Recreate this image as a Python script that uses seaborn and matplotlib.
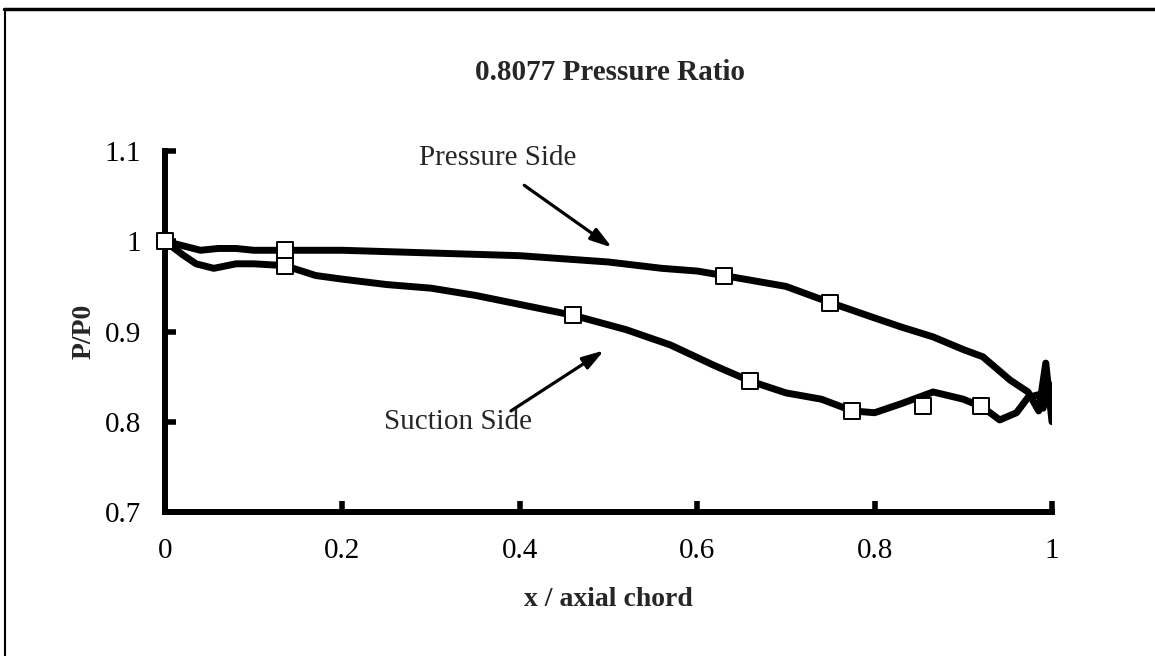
import matplotlib
matplotlib.use("Agg")
import matplotlib.pyplot as plt
import seaborn as sns
import pandas as pd
from matplotlib.lines import Line2D

# ---- data ----
ps_x = [0, 0.02, 0.04, 0.06, 0.08, 0.1, 0.135, 0.2, 0.3, 0.4, 0.5, 0.56, 0.6, 0.63,
        0.7, 0.75, 0.8, 0.83, 0.866, 0.9, 0.922, 0.953, 0.973, 0.985, 0.993, 1.0]
ps_y = [1.0, 0.995, 0.99, 0.992, 0.992, 0.99, 0.99, 0.99, 0.987, 0.984, 0.977, 0.97, 0.967, 0.962,
        0.95, 0.932, 0.915, 0.905, 0.894, 0.88, 0.872, 0.846, 0.833, 0.812, 0.865, 0.80]

ss_x = [0, 0.02, 0.035, 0.055, 0.08, 0.1, 0.135, 0.17, 0.2, 0.25, 0.3, 0.35, 0.4, 0.46,
        0.52, 0.57, 0.62, 0.66, 0.7, 0.74, 0.775, 0.8, 0.83, 0.866, 0.9, 0.922, 0.941,
        0.96, 0.973, 0.985, 0.99, 0.995, 1.0]
ss_y = [1.0, 0.985, 0.975, 0.97, 0.975, 0.975, 0.973, 0.962, 0.958, 0.952, 0.948, 0.94, 0.93, 0.918,
        0.902, 0.885, 0.862, 0.845, 0.832, 0.825, 0.812, 0.81, 0.82, 0.833, 0.825, 0.816, 0.802,
        0.81, 0.827, 0.83, 0.815, 0.845, 0.832]

ps_mx = [0, 0.135, 0.63, 0.75]
ps_my = [1.0, 0.99, 0.962, 0.932]
ss_mx = [0.135, 0.46, 0.66, 0.775, 0.855, 0.92]
ss_my = [0.973, 0.918, 0.845, 0.812, 0.818, 0.817]

x_ticks = [0, 0.2, 0.4, 0.6, 0.8, 1.0]
x_labels = ["0", "0.2", "0.4", "0.6", "0.8", "1"]
y_ticks = [0.7, 0.8, 0.9, 1.0, 1.1]
y_labels = ["0.7", "0.8", "0.9", "1", "1.1"]

title = "0.8077 Pressure Ratio"
xlabel = "x / axial chord"
ylabel = "P/P0"
ps_label = "Pressure Side"
ss_label = "Suction Side"

# ---- style ----
sns.set_style("ticks")
plt.rcParams["font.family"] = ["Liberation Serif", "DejaVu Serif"]

W, H = 1155, 656
fig = plt.figure(figsize=(W / 100, H / 100), dpi=100)
ax = fig.add_axes([165 / W, 1 - 512 / H, (1052 - 165) / W, (512 - 151) / H])

ps = pd.DataFrame({"x": ps_x, "y": ps_y})
ss = pd.DataFrame({"x": ss_x, "y": ss_y})
for d in (ps, ss):
    sns.lineplot(data=d, x="x", y="y", sort=False, estimator=None, color="black",
                 linewidth=5, ax=ax, solid_capstyle="round", solid_joinstyle="round",
                 zorder=3)

pm = pd.DataFrame({"x": ps_mx, "y": ps_my})
sm = pd.DataFrame({"x": ss_mx, "y": ss_my})
for d in (pm, sm):
    sns.scatterplot(data=d, x="x", y="y", marker="s", s=140, color="white",
                    edgecolor="black", linewidth=1.4, ax=ax, zorder=5, clip_on=False)

ax.set_xlim(0, 1)
ax.set_ylim(0.7, 1.1)
ax.set_xticks(x_ticks)
ax.set_xticklabels(x_labels)
ax.set_yticks(y_ticks)
ax.set_yticklabels(y_labels)
ax.tick_params(axis="both", direction="in", length=8, width=4, labelsize=21,
               colors="black")
ax.tick_params(axis="x", pad=19)
ax.tick_params(axis="y", pad=17)
for side in ("top", "right"):
    ax.spines[side].set_visible(False)
for side in ("left", "bottom"):
    ax.spines[side].set_linewidth(4.3)
    ax.spines[side].set_color("black")

ax.set_xlabel(xlabel, fontsize=20, fontweight="bold", labelpad=16)
ax.set_ylabel(ylabel, fontsize=20, fontweight="bold", labelpad=6)
fig.text(610 / W, 1 - 73 / H, title, fontsize=21, fontweight="bold",
         ha="center", va="center")

# annotations
arrow = dict(arrowstyle="-|>,head_length=1.3,head_width=0.4",
             color="black", lw=2.3, shrinkA=0, shrinkB=0)
ax.annotate(ps_label, xy=(0.504, 0.993), xytext=(0.375, 1.092),
            fontsize=21, ha="center", va="center", zorder=6)
ax.annotate("", xy=(0.504, 0.993), xytext=(0.405, 1.062), arrowprops=arrow)
ax.annotate(ss_label, xy=(0.495, 0.879), xytext=(0.33, 0.80),
            fontsize=21, ha="center", va="center", zorder=6)
ax.annotate("", xy=(0.495, 0.879), xytext=(0.39, 0.812), arrowprops=arrow)

# outer frame (top and left edges)
fig.add_artist(Line2D([4 / W, 1], [1 - 9 / H, 1 - 9 / H], color="black", lw=2.5,
                      transform=fig.transFigure))
fig.add_artist(Line2D([5 / W, 5 / W], [0, 1 - 9 / H], color="black", lw=1.5,
                      transform=fig.transFigure))

fig.savefig("out.png", dpi=100, facecolor="white")
